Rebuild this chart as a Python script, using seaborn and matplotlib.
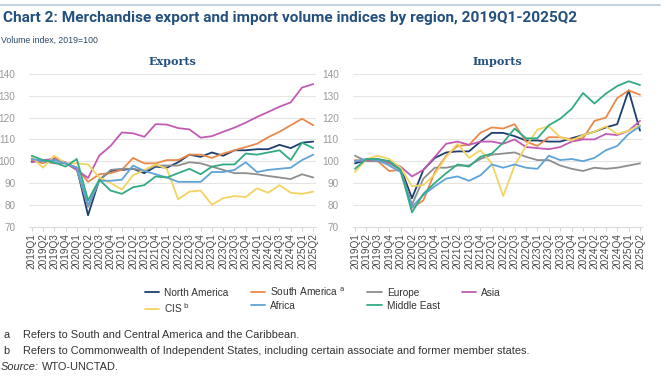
import matplotlib
matplotlib.use("Agg")
import matplotlib.pyplot as plt
import seaborn as sns
import pandas as pd
import numpy as np

quarters = [f"{y}Q{q}" for y in range(2019, 2026) for q in range(1, 5)][:26]

regions = ["North America", "South America", "Europe", "Asia", "CIS", "Africa", "Middle East"]
colors = ["#1d3f6e", "#e9894c", "#8e8e8e", "#c25bb3", "#f2d462", "#5ea4d8", "#31ab84"]

exp_north_america = [100, 100, 101, 99, 97, 75.2, 91.5, 95.5, 96, 96.5, 94.5, 97.5, 97, 99.5, 103, 102,
                     104, 102.5, 105, 105, 105.5, 105.5, 107.5, 106, 108.5, 109]
exp_south_america = [100.5, 99, 102, 99, 97, 90.5, 94, 94.5, 96, 101.5, 99, 99, 100.5, 100.5, 103, 103,
                     101.5, 103.5, 105, 106.5, 108, 111, 113.5, 116.5, 119.5, 116.5]
exp_europe = [101, 100, 99, 99, 96, 79, 91, 96, 96.5, 96.5, 95.5, 98, 98, 98, 99.5, 99,
              97.5, 96, 94.5, 94.5, 94, 93.2, 92.5, 91.8, 94, 92.5]
exp_asia = [99.5, 100.5, 101, 99.5, 96, 92.3, 102.6, 107, 113.2, 112.8, 111.2, 117, 116.8, 115.2, 114.6, 110.8,
            111.5, 113.5, 115.4, 117.7, 120.3, 122.6, 125, 127, 133.8, 135.4]
exp_cis = [102, 97, 102.5, 99, 99, 98.5, 92.5, 90, 87, 93.5, 96, 98.5, 96.5, 82.5, 86, 86.5,
           80, 83, 84, 83.5, 87.5, 85.5, 89, 85.5, 85, 86]
exp_africa = [101, 100, 100.5, 99, 97, 80, 91, 91, 91.5, 98, 95.5, 94, 92.5, 90.5, 90.5, 90.5,
              95, 95, 96, 99.5, 95, 96, 96.5, 97, 100.5, 103]
exp_middle_east = [102.5, 100.5, 99.5, 97.5, 101, 82, 91.5, 86.5, 85, 88, 89, 93, 92.5, 94.5, 96.5, 94,
                   97.5, 98.5, 98.5, 103.5, 103, 104, 105, 100.5, 108.5, 106]

imp_north_america = [99, 100.5, 100.5, 100, 97, 83, 96, 101.5, 104, 104.5, 104.5, 109, 113, 113, 111.5, 109.5,
                     109.5, 109, 109, 110.5, 112, 113.5, 115.5, 117, 132.5, 114]
imp_south_america = [100.5, 100, 100, 95.5, 96, 78.5, 82, 95, 102.5, 107, 107.5, 113, 115.5, 115, 117, 109,
                     107, 111, 111, 110, 110.5, 118.5, 120, 129, 132.5, 130.5]
imp_europe = [102.5, 100, 100, 99, 96, 80, 92, 97, 97, 98, 98, 101, 103, 103.5, 104, 102,
              100.5, 100.5, 98, 96.5, 95.5, 97, 96.5, 97, 98, 99]
imp_asia = [100, 100.5, 101, 99.5, 97.5, 93, 96, 102, 108, 109, 107.5, 109, 109, 108, 110, 106.5,
            106, 105.5, 106.5, 109, 110, 110, 112.5, 112, 114, 118.5]
imp_cis = [95, 101, 102.5, 101, 97, 88.5, 89, 94, 102, 108, 101.5, 105, 99, 84, 98, 107,
           114.5, 116, 111, 109.5, 112, 113.5, 116, 112.5, 114, 116.5]
imp_africa = [100, 101, 100.5, 98, 95, 79, 84.5, 88.5, 92, 93, 91, 93.5, 98.5, 97, 98.5, 97,
              96.5, 102.5, 100.5, 101, 100, 101.5, 105, 107, 112.5, 116]
imp_middle_east = [96.5, 101, 101, 100, 96, 76.5, 85, 90, 94.5, 98.5, 97.5, 102, 103.5, 108.5, 115, 110.5,
                   110.5, 116.5, 119.5, 124, 131.3, 126.5, 131, 134.5, 136.7, 135]

exports = [exp_north_america, exp_south_america, exp_europe, exp_asia, exp_cis, exp_africa, exp_middle_east]
imports = [imp_north_america, imp_south_america, imp_europe, imp_asia, imp_cis, imp_africa, imp_middle_east]

legend_labels = {"North America": "North America",
                 "South America": r"South America $^{\mathrm{a}}$",
                 "Europe": "Europe", "Asia": "Asia",
                 "CIS": r"CIS $^{\mathrm{b}}$",
                 "Africa": "Africa", "Middle East": "Middle East"}


def to_long(series_list):
    rows = []
    for reg, vals in zip(regions, series_list):
        for i, v in enumerate(vals):
            rows.append({"region": reg, "idx": i, "value": v})
    return pd.DataFrame(rows)


sns.set_theme(style="white")
plt.rcParams["font.family"] = ["Liberation Sans", "DejaVu Sans"]

W, H = 670, 381
fig = plt.figure(figsize=(W / 100, H / 100), dpi=100)
palette = dict(zip(regions, colors))


def px_axes(x0, x1, y0, y1):
    return fig.add_axes([x0 / W, 1 - y1 / H, (x1 - x0) / W, (y1 - y0) / H])


ax_ex = px_axes(29.5, 315.5, 73, 226.5)
ax_im = px_axes(352.7, 642.3, 73, 226.5)

for ax, data, title in [(ax_ex, exports, "Exports"), (ax_im, imports, "Imports")]:
    df = to_long(data)
    sns.lineplot(data=df, x="idx", y="value", hue="region", hue_order=regions,
                 palette=palette, linewidth=1.3, legend=False, ax=ax)
    ax.set_xlim(-0.2, 25.2)
    ax.set_ylim(70, 140.5)
    ax.set_yticks([70, 80, 90, 100, 110, 120, 130, 140])
    ax.set_xticks(range(26))
    ax.set_xticklabels(quarters, rotation=90)
    ax.grid(axis="y", color="#e5e5e5", linewidth=0.8)
    ax.set_axisbelow(True)
    for s in ["top", "right", "left"]:
        ax.spines[s].set_visible(False)
    ax.spines["bottom"].set_color("#dddddd")
    ax.spines["bottom"].set_linewidth(0.8)
    ax.tick_params(axis="x", bottom=True, length=3, width=0.6, color="#cccccc",
                   labelsize=7.2, labelcolor="#4a4a4a", pad=2)
    ax.tick_params(axis="y", left=False, labelsize=7.2, labelcolor="#999999", pad=4)
    ax.set_xlabel("")
    ax.set_ylabel("")
    ax.set_title(title, family=["DejaVu Serif"], fontweight="bold", fontsize=8,
                 color="#24507d", pad=6)

# legend from the exports lines
lines = ax_ex.get_lines()[:len(regions)]
h_by_reg = dict(zip(regions, lines))
order = ["North America", "CIS", "South America", "Africa", "Europe", "Middle East", "Asia"]
fig.legend([h_by_reg[r] for r in order], [legend_labels[r] for r in order],
           ncol=4, loc="center", bbox_to_anchor=(323 / W, 1 - 300 / H),
           frameon=False, fontsize=7.3, handlelength=1.4, handletextpad=0.5,
           columnspacing=2.2, labelspacing=0.3, labelcolor="#333333")

# header
fig.add_artist(plt.Line2D([0, 660 / W], [1 - 5 / H, 1 - 5 / H], color="#b7c8d6", linewidth=1.2))
fig.text(3 / W, 1 - 18 / H, "Chart 2: Merchandise export and import volume indices by region, 2019Q1-2025Q2",
         family=["Roboto", "DejaVu Sans"], fontweight="bold", fontsize=11.1, color="#24507d",
         va="center", ha="left")
fig.text(1 / W, 1 - 40 / H, "Volume index, 2019=100", fontsize=6.3, color="#2b4866",
         va="center", ha="left")

# footnotes
fs = 7.9
fig.text(3 / W, 1 - 335 / H, "a", fontsize=fs, color="#333333", va="center")
fig.text(23 / W, 1 - 335 / H, "Refers to South and Central America and the Caribbean.",
         fontsize=fs, color="#333333", va="center")
fig.text(3 / W, 1 - 351 / H, "b", fontsize=fs, color="#333333", va="center")
fig.text(23 / W, 1 - 351 / H,
         "Refers to Commonwealth of Independent States, including certain associate and former member states.",
         fontsize=fs, color="#333333", va="center")
src = fig.text(1 / W, 1 - 367 / H, "Source:", fontsize=fs, color="#333333", style="italic", va="center")
fig.canvas.draw()
bb = src.get_window_extent(renderer=fig.canvas.get_renderer())
fig.text((bb.x1 + 3) / W, 1 - 367 / H, "WTO-UNCTAD.", fontsize=fs, color="#333333", va="center")

fig.savefig("out.png", dpi=100)
